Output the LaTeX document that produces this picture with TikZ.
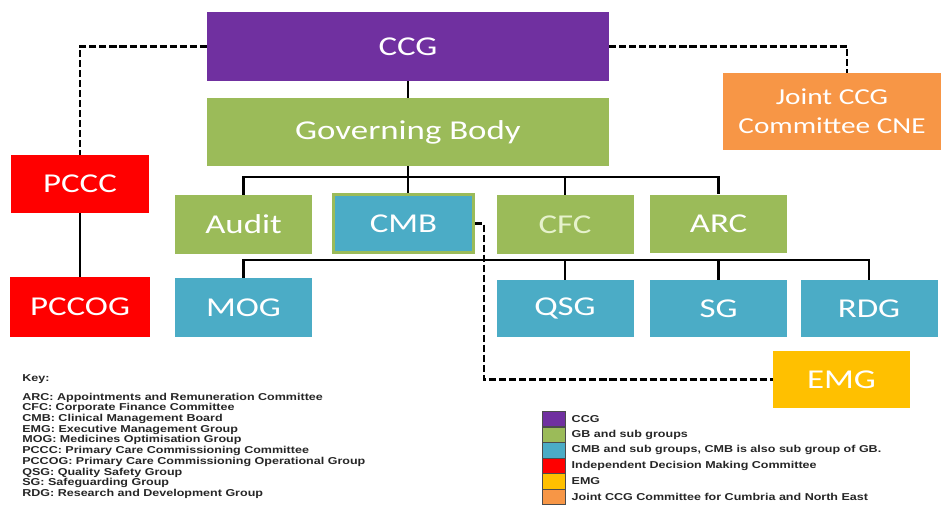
\documentclass[tikz,border=0pt]{standalone}
\usepackage{fontspec}
\setmainfont{Carlito}
\newfontfamily\boxfont[FakeStretch=1.28]{Carlito}
\newfontfamily\keyfont[FakeStretch=1.25]{Liberation Sans}
\usetikzlibrary{positioning}
\definecolor{ccgpurple}{HTML}{7030A0}
\definecolor{gbgreen}{HTML}{9BBB59}
\definecolor{cmbblue}{HTML}{4BACC6}
\definecolor{idmred}{HTML}{FF0000}
\definecolor{emgyellow}{HTML}{FFC000}
\definecolor{jointorange}{HTML}{F79646}
\definecolor{cfctext}{HTML}{E6F2CC}
\begin{document}
\begin{tikzpicture}[
		orgbox/.style={minimum width=2.74cm, minimum height=1.17cm, inner sep=0pt, text=white, font=\boxfont\fontsize{15.5}{18}\selectfont},
		gbbox/.style={orgbox, fill=gbgreen},
		cmbbox/.style={orgbox, fill=cmbblue},
		idmbox/.style={orgbox, fill=idmred},
		link/.style={line width=1.3pt},
		dashlink/.style={line width=1.4pt, dash pattern=on 4pt off 1.7pt},
		keybox/.style={draw=black!70, line width=0.4pt, minimum width=0.46cm, minimum height=0.31cm, inner sep=0pt},
		keytext/.style={anchor=west, inner sep=0pt, text=black!85, font=\keyfont\bfseries\fontsize{5.7}{6.1}\selectfont}
	]
				\useasboundingbox (0, 0) rectangle (18.86, 10.12);

				\node (CCG) [orgbox, fill=ccgpurple, minimum width=8.04cm, minimum height=1.38cm] at (8.16, 9.19) {CCG};
				\node (Body) [gbbox, minimum width=8.04cm, minimum height=1.36cm] at (8.16, 7.48) {Governing Body};
				\draw[link] (CCG) -- (Body);

				\node (Joint) [orgbox, fill=jointorange, minimum width=4.36cm, minimum height=1.54cm, align=center, font=\boxfont\fontsize{13}{16.4}\selectfont] at (16.64, 7.89) {Joint CCG\\Committee CNE};
				\draw[dashlink] (CCG.east) -| ([xshift=0.3cm]Joint.north);

				\node (PCCC) [idmbox, minimum width=2.76cm, minimum height=1.16cm] at (1.60, 6.44) {PCCC};
				\node (PCCOG) [idmbox, minimum width=2.80cm, minimum height=1.20cm] at (1.60, 3.98) {PCCOG};
				\draw[dashlink] (CCG.west) -| (PCCC.north);
				\draw[link] (PCCC) -- (PCCOG);

				\node (Audit) [gbbox] at (4.87, 5.63) {Audit};
				\node (CMB) [cmbbox, draw=gbgreen, line width=1.7pt, minimum width=2.80cm, minimum height=1.16cm] at (8.07, 5.65) {CMB};
				\node (CFC) [gbbox, text=cfctext] at (11.30, 5.63) {CFC};
				\node (ARC) [gbbox] at (14.37, 5.64) {ARC};
				\coordinate (BusTop) at (8.16, 6.58);
				\draw[link] (Body) -- (Body |- CMB.north);
				\draw[link] (Audit.north) |- (BusTop) -| (ARC.north);
				\draw[link] (CFC.north) -- (CFC.north |- BusTop);

				\node (MOG) [cmbbox] at (4.87, 3.97) {MOG};
				\node (QSG) [cmbbox, minimum height=1.14cm] at (11.30, 3.95) {QSG};
				\node (SG) [cmbbox, minimum height=1.14cm] at (14.37, 3.95) {SG};
				\node (RDG) [cmbbox, minimum height=1.14cm] at (17.38, 3.95) {RDG};
				\coordinate (BusLow) at (8.07, 4.92);
				\draw[link] (MOG.north) |- (BusLow) -| (RDG.north);
				\draw[link] (QSG.north) -- (QSG.north |- BusLow);
				\draw[link] (SG.north) -- (SG.north |- BusLow);

				\node (EMG) [orgbox, fill=emgyellow, minimum height=1.14cm] at (16.83, 2.53) {EMG};
				\coordinate (CMBBend) at (9.68, 2.53);
				\draw[dashlink] (CMB.east) -| (CMBBend) -- (EMG.west);

				\node (KeyHead) [keytext] at (0.44, 2.54) {Key:};
				\node (KeyList) [keytext, anchor=north west, align=left] at (0.44, 2.27) {ARC: Appointments and Remuneration Committee\\CFC: Corporate Finance Committee\\CMB: Clinical Management Board\\EMG: Executive Management Group\\MOG: Medicines Optimisation Group\\PCCC: Primary Care Commissioning Committee\\PCCOG: Primary Care Commissioning Operational Group\\QSG: Quality Safety Group\\SG: Safeguarding Group\\RDG: Research and Development Group};

				\node (KeyCCG) [keybox, fill=ccgpurple] at (11.07, 1.74) {};
				\node (KeyGB) [keybox, fill=gbgreen] at (11.07, 1.428) {};
				\node (KeyCMB) [keybox, fill=cmbblue] at (11.07, 1.116) {};
				\node (KeyIDM) [keybox, fill=idmred] at (11.07, 0.804) {};
				\node (KeyEMG) [keybox, fill=emgyellow] at (11.07, 0.492) {};
				\node (KeyJoint) [keybox, fill=jointorange] at (11.07, 0.18) {};
				\node (KeyCCGText) [keytext, right=0.12cm of KeyCCG] {CCG};
				\node (KeyGBText) [keytext, right=0.12cm of KeyGB] {GB and sub groups};
				\node (KeyCMBText) [keytext, right=0.12cm of KeyCMB] {CMB and sub groups, CMB is also sub group of GB.};
				\node (KeyIDMText) [keytext, right=0.12cm of KeyIDM] {Independent Decision Making Committee};
				\node (KeyEMGText) [keytext, right=0.12cm of KeyEMG] {EMG};
				\node (KeyJointText) [keytext, right=0.12cm of KeyJoint] {Joint CCG Committee for Cumbria and North East};
			\end{tikzpicture}
\end{document}
